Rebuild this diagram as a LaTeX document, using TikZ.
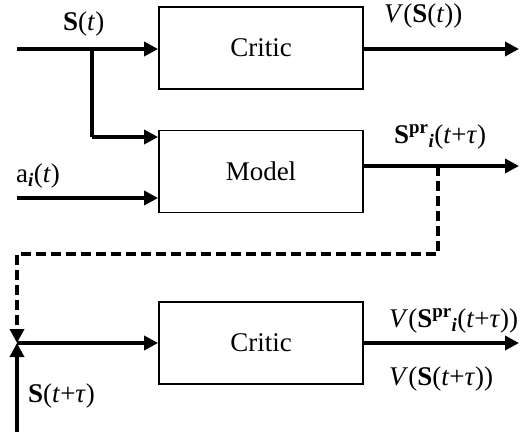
\documentclass[tikz,border=0pt]{standalone}
\usepackage{fontspec}
\setmainfont{Liberation Serif}
\usetikzlibrary{arrows.meta,calc}
\begin{document}
\begin{tikzpicture}[x=1pt,y=-1pt,
  blk/.style={draw,line width=1.8pt,minimum width=204pt,minimum height=82pt,inner sep=0pt,font=\fontsize{27}{32}\selectfont},
  sig/.style={line width=3.4pt,-{Triangle[length=14pt,width=14pt]}},
  plain/.style={line width=3.4pt},
  dsh/.style={line width=3.4pt,dash pattern=on 10pt off 5pt},
  lbl/.style={anchor=base west,inner sep=0pt,font=\fontsize{27}{32}\selectfont}]
\useasboundingbox (0,0) rectangle (532,434);
\node[blk] (c1) at (261,48) {Critic};
\node[blk] (m) at (261,171.5) {Model};
\node[blk] (c2) at (261,343) {Critic};
% inputs
\coordinate (sin) at (17,49);
\coordinate (br) at (92,49);
\coordinate (brd) at (92,137);
\coordinate (ain) at (17,198);
\coordinate (o1) at (519,49);
\coordinate (o2) at (519,166);
\coordinate (d0) at (438,166);
\coordinate (d1) at (438,254);
\coordinate (d2) at (17,254);
\coordinate (j) at (17,343);
\coordinate (sb) at (17,432);
\coordinate (o3) at (519,343);
\draw[sig] (sin) -- (sin -| c1.west);
\draw[plain] (br) -- (brd);
\draw[sig] (brd) -- (brd -| m.west);
\draw[sig] (ain) -- (ain -| m.west);
\draw[sig] (o1 -| c1.east) -- (o1);
\draw[sig] (o2 -| m.east) -- (o2);
\draw[dsh,-{Triangle[length=14pt,width=14pt]}] (d0) -- (d1) -- (d2) -- (j);
\draw[sig] (sb) -- (j);
\draw[sig] (j) -- (j -| c2.west);
\draw[sig] (o3 -| c2.east) -- (o3);
% labels
\node[lbl] (l1) at (63,30) {\textbf{S}(\textit{t})};
\node[lbl] (l2) at (384,22) {\textit{V}(\textbf{S}(\textit{t}))};
\node[lbl] (l3) at (394,143) {\textbf{S}\textsuperscript{\textbf{pr}}\textsubscript{\textbf{\textit{i}}}(\textit{t}+\textit{τ})};
\node[lbl] (l4) at (16,182) {a\textsubscript{\textbf{\textit{i}}}(\textit{t})};
\node[lbl] (l5) at (28,402) {\textbf{S}(\textit{t}+\textit{τ})};
\node[lbl] (l6) at (389,327) {\textit{V}(\textbf{S}\textsuperscript{\textbf{pr}}\textsubscript{\textbf{\textit{i}}}(\textit{t}+\textit{τ}))};
\node[lbl] (l7) at (389,385) {\textit{V}(\textbf{S}(\textit{t}+\textit{τ}))};
\end{tikzpicture}
\end{document}
